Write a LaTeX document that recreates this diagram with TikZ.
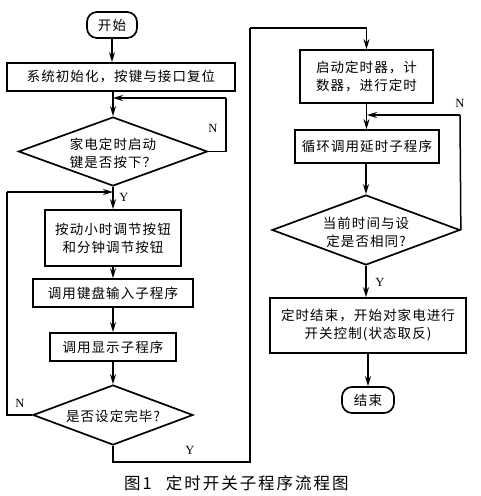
\documentclass[tikz,border=0pt]{standalone}
\usepackage{fontspec}
\setmainfont{Liberation Serif}
\newfontfamily\cjk[LetterSpace=8]{Noto Sans CJK SC}
\newfontfamily\cjkcap[LetterSpace=12]{Noto Sans CJK SC}
\usetikzlibrary{arrows.meta,shapes.geometric}
\tikzset{
  box/.style={draw,line width=1.7pt,inner sep=0pt,align=center,font=\cjk\fontsize{13.5}{18}\selectfont},
  term/.style={draw,line width=1.7pt,rounded corners=10pt,inner sep=0pt,font=\cjk\fontsize{13.5}{18}\selectfont},
  dia/.style={draw,diamond,line width=1.7pt,inner sep=0pt},
  dtext/.style={align=center,inner sep=0pt,font=\cjk\fontsize{13.5}{18}\selectfont},
  flow/.style={line width=1.5pt},
  arr/.style={line width=1.5pt,-{Stealth[length=10pt,width=6pt]}},
  yn/.style={font=\fontsize{12.5}{14}\selectfont,inner sep=0pt}
}
\begin{document}
\begin{tikzpicture}[x=1pt,y=-1pt]
\useasboundingbox (0,0) rectangle (480,496);
% left column
\node[term,minimum width=50pt,minimum height=26pt] (start) at (112,25) {开始};
\node[box,minimum width=228pt,minimum height=28pt] (b1) at (121,77) {系统初始化，按键与接口复位};
\node[dia,minimum width=189pt,minimum height=69pt] (d1) at (113,151.5) {};
\node[dtext] (d1t) at (113,153) {家电定时启动\\键是否按下？};
\node[box,minimum width=136pt,minimum height=56pt] (b2) at (113,238) {按动小时调节按钮\\和分钟调节按钮};
\node[box,minimum width=160pt,minimum height=28pt] (b3) at (113,293) {调用键盘输入子程序};
\node[box,minimum width=126pt,minimum height=28pt] (b4) at (113,347) {调用显示子程序};
\node[dia,minimum width=160pt,minimum height=60pt] (d2) at (113,415) {};
\node[dtext] (d2t) at (113,416) {是否设定完毕?};
% right column
\node[box,minimum width=133pt,minimum height=53pt] (b5) at (366.5,76.5) {启动定时器，计\\数器，进行定时};
\node[box,minimum width=144pt,minimum height=33pt] (b6) at (367,146.5) {循环调用延时子程序};
\node[dia,minimum width=188pt,minimum height=70pt] (d3) at (366,230) {};
\node[dtext] (d3t) at (366,232) {当前时间与设\\定是否相同?};
\node[box,minimum width=196pt,minimum height=55pt] (b7) at (368,325.5) {定时结束，开始对家电进行\\开关控制(状态取反)};
\node[term,minimum width=52pt,minimum height=26pt] (end) at (368,400) {结束};
% labels
\node[yn] (n1) at (213,128) {N};
\node[yn] (y1) at (124,197) {Y};
\node[yn] (n2) at (20,403) {N};
\node[yn] (y2) at (190,450) {Y};
\node[yn] (n3) at (460,103) {N};
\node[yn] (y3) at (380,282) {Y};
\node[font=\cjkcap\fontsize{16.5}{18}\selectfont,anchor=west,inner sep=0pt] (cap) at (124,483) {图1\hspace{14pt}定时开关子程序流程图};
% coordinates
\coordinate (c1) at (226,98);
\coordinate (c2) at (7,192);
\coordinate (c3) at (250,462);
\coordinate (c4) at (250,28);
\coordinate (c5) at (460,115);
% connectors
\draw[arr] (start) -- (start |- b1.north);
\draw[arr] (d1.north |- b1.south) -- (d1.north);
\draw[flow] (d1.east) -| (c1);
\draw[arr] (c1) -- (d1.north |- c1);
\draw[arr] (d1.south) -- (b2.north);
\draw[arr] (b2.south) -- (b3.north);
\draw[arr] (b3.south) -- (b4.north);
\draw[arr] (b4.south) -- (d2.north);
\draw[flow] (d2.west) -| (c2);
\draw[arr] (c2) -- (d1.south |- c2);
\draw[flow] (d2.south) |- (c3) -- (c4);
\draw[arr] (c4) -| (b5.north);
\draw[arr] (b5.south) -- (b5.south |- b6.north);
\draw[arr] (b6.south -| d3.north) -- (d3.north);
\draw[flow] (d3.east) -- (c5);
\draw[arr] (c5) -- (b6.north |- c5);
\draw[arr] (d3.south) -- (d3.south |- b7.north);
\draw[arr] (end.north |- b7.south) -- (end.north);
\end{tikzpicture}
\end{document}
